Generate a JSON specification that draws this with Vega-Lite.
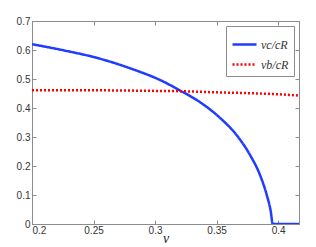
{
  "$schema": "https://vega.github.io/schema/vega-lite/v6.json",
  "width": 267,
  "height": 203,
  "autosize": {"type": "none"},
  "padding": {"left": 32, "top": 21, "right": 17, "bottom": 23},
  "background": "white",
  "config": {
    "view": {"stroke": "#8c8c8c", "strokeWidth": 1},
    "axis": {
      "domainColor": "#8c8c8c",
      "tickColor": "#8c8c8c",
      "grid": false,
      "labelFont": "Liberation Sans",
      "labelFontSize": 10,
      "labelColor": "#333333",
      "tickSize": -4,
      "labelPadding": 6
    }
  },
  "data": {
    "values": [
      {"nu": 0.2, "v": 0.62, "s": "vc/cR"},
      {"nu": 0.2255, "v": 0.599, "s": "vc/cR"},
      {"nu": 0.2526, "v": 0.573, "s": "vc/cR"},
      {"nu": 0.2797, "v": 0.537, "s": "vc/cR"},
      {"nu": 0.3068, "v": 0.491, "s": "vc/cR"},
      {"nu": 0.32, "v": 0.461, "s": "vc/cR"},
      {"nu": 0.3366, "v": 0.42, "s": "vc/cR"},
      {"nu": 0.3528, "v": 0.366, "s": "vc/cR"},
      {"nu": 0.3664, "v": 0.306, "s": "vc/cR"},
      {"nu": 0.3772, "v": 0.238, "s": "vc/cR"},
      {"nu": 0.3854, "v": 0.168, "s": "vc/cR"},
      {"nu": 0.3908, "v": 0.1, "s": "vc/cR"},
      {"nu": 0.394, "v": 0.045, "s": "vc/cR"},
      {"nu": 0.3957, "v": 0.0, "s": "vc/cR"},
      {"nu": 0.417, "v": 0.0, "s": "vc/cR"},
      {"nu": 0.2, "v": 0.461, "s": "vb/cR"},
      {"nu": 0.25, "v": 0.461, "s": "vb/cR"},
      {"nu": 0.3, "v": 0.459, "s": "vb/cR"},
      {"nu": 0.32, "v": 0.458, "s": "vb/cR"},
      {"nu": 0.35, "v": 0.454, "s": "vb/cR"},
      {"nu": 0.377, "v": 0.451, "s": "vb/cR"},
      {"nu": 0.41, "v": 0.445, "s": "vb/cR"},
      {"nu": 0.417, "v": 0.443, "s": "vb/cR"}
    ]
  },
  "layer": [
    {
      "mark": {"type": "line", "strokeWidth": 2.5, "interpolate": "monotone", "clip": true},
      "encoding": {
        "x": {
          "field": "nu", "type": "quantitative",
          "scale": {"domain": [0.2, 0.417], "nice": false, "zero": false},
          "axis": {"values": [0.2, 0.25, 0.3, 0.35, 0.4], "format": "~g", "title": "ν",
            "labelPadding": 5,
            "titleFont": "Liberation Serif", "titleFontStyle": "italic", "titleFontWeight": "normal",
            "titleFontSize": 14, "titleColor": "#222222", "titlePadding": -4}
        },
        "y": {
          "field": "v", "type": "quantitative",
          "scale": {"domain": [0, 0.7], "nice": false},
          "axis": {"values": [0, 0.1, 0.2, 0.3, 0.4, 0.5, 0.6, 0.7], "format": "~g", "title": null}
        },
        "color": {
          "field": "s", "type": "nominal",
          "scale": {"domain": ["vc/cR", "vb/cR"], "range": ["#1f3cff", "#ff0000"]},
          "legend": {
            "title": null, "orient": "top-right", "offset": 5,
            "strokeColor": "#8c8c8c", "fillColor": "white", "padding": 5,
            "symbolType": "stroke", "symbolSize": 576, "symbolStrokeWidth": 2.5,
            "labelFont": "Liberation Serif", "labelFontStyle": "italic", "labelFontSize": 12,
            "labelColor": "#333333", "rowPadding": 0, "labelOffset": 3, "cornerRadius": 0
          }
        },
        "strokeDash": {
          "field": "s", "type": "nominal",
          "scale": {"domain": ["vc/cR", "vb/cR"], "range": [[1, 0], [2, 2]]},
          "legend": null
        }
      }
    },
    {
      "mark": {"type": "line", "opacity": 0},
      "encoding": {
        "x": {"field": "nu", "type": "quantitative",
          "axis": {"orient": "top", "values": [0.2, 0.25, 0.3, 0.35, 0.4], "labels": false, "title": null}},
        "y": {"field": "v", "type": "quantitative",
          "axis": {"orient": "right", "values": [0, 0.1, 0.2, 0.3, 0.4, 0.5, 0.6, 0.7], "labels": false, "title": null}}
      }
    }
  ],
  "resolve": {"axis": {"x": "independent", "y": "independent"}}
}
